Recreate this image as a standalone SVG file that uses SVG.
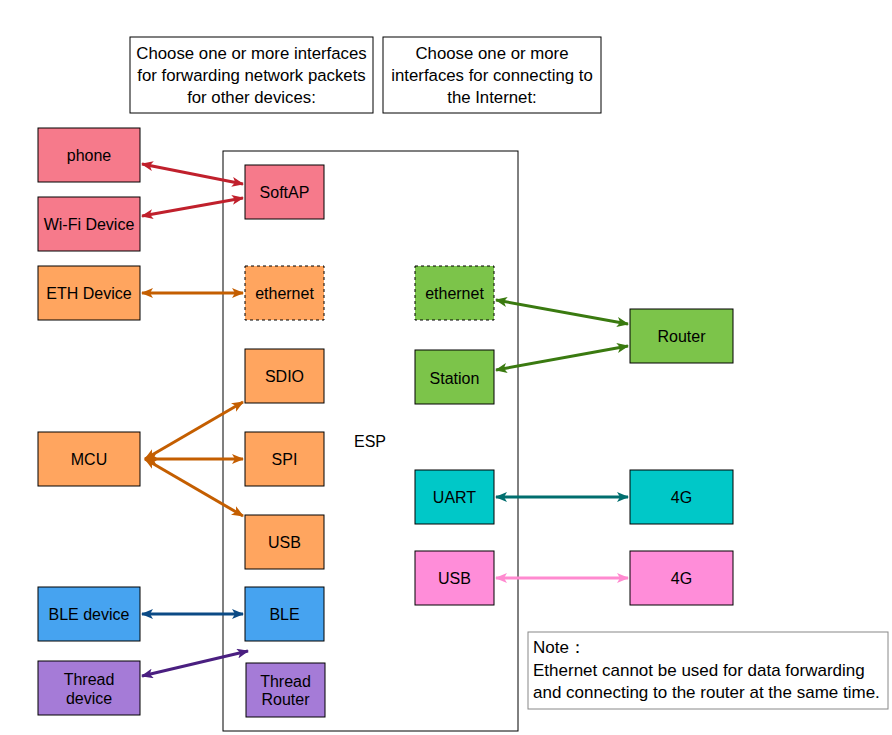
<svg xmlns="http://www.w3.org/2000/svg" width="892" height="735" viewBox="0 0 892 735">
<defs>
<style>
text{font-family:"Liberation Sans",Arial,sans-serif;font-size:16px;fill:#000;text-anchor:middle;dominant-baseline:central}
.big{font-size:16.8px}
.n{stroke:#000;stroke-width:1}
.d{stroke-dasharray:3 3}
.pk{fill:#F67A8B}.or{fill:#FFA55F}.gr{fill:#7CC44A}.cy{fill:#00C8C8}.mg{fill:#FF8DD9}.bl{fill:#46A3F0}.pu{fill:#A57BD7}
.c{fill:none;stroke-width:3}
.tb{fill:#fff;stroke:#000;stroke-width:1}
.note{fill:#fff;stroke:#888;stroke-width:1}
.l{text-anchor:start;font-size:17px}
</style>
<marker id="m-red" viewBox="0 0 12 10" refX="11" refY="5" markerWidth="12" markerHeight="10" orient="auto-start-reverse" markerUnits="userSpaceOnUse"><path d="M0,0 L12,5 L0,10 L3,5 Z" fill="#C0202C"/></marker>
<marker id="m-or" viewBox="0 0 12 10" refX="11" refY="5" markerWidth="12" markerHeight="10" orient="auto-start-reverse" markerUnits="userSpaceOnUse"><path d="M0,0 L12,5 L0,10 L3,5 Z" fill="#C45E00"/></marker>
<marker id="m-gr" viewBox="0 0 12 10" refX="11" refY="5" markerWidth="12" markerHeight="10" orient="auto-start-reverse" markerUnits="userSpaceOnUse"><path d="M0,0 L12,5 L0,10 L3,5 Z" fill="#3A7A10"/></marker>
<marker id="m-te" viewBox="0 0 12 10" refX="11" refY="5" markerWidth="12" markerHeight="10" orient="auto-start-reverse" markerUnits="userSpaceOnUse"><path d="M0,0 L12,5 L0,10 L3,5 Z" fill="#006E6E"/></marker>
<marker id="m-pk" viewBox="0 0 12 10" refX="11" refY="5" markerWidth="12" markerHeight="10" orient="auto-start-reverse" markerUnits="userSpaceOnUse"><path d="M0,0 L12,5 L0,10 L3,5 Z" fill="#FF8AD0"/></marker>
<marker id="m-bl" viewBox="0 0 12 10" refX="11" refY="5" markerWidth="12" markerHeight="10" orient="auto-start-reverse" markerUnits="userSpaceOnUse"><path d="M0,0 L12,5 L0,10 L3,5 Z" fill="#0B4A85"/></marker>
<marker id="m-pu" viewBox="0 0 12 10" refX="11" refY="5" markerWidth="12" markerHeight="10" orient="auto-start-reverse" markerUnits="userSpaceOnUse"><path d="M0,0 L12,5 L0,10 L3,5 Z" fill="#4A1F80"/></marker>
</defs>
<g id="note-left"><rect class="tb" x="130" y="37" width="243" height="76"/><text class="big" x="251.5" y="53">Choose one or more interfaces</text><text class="big" x="251.5" y="75">for forwarding network packets</text><text class="big" x="251.5" y="97">for other devices:</text></g>
<g id="note-right"><rect class="tb" x="383" y="37" width="218" height="76"/><text class="big" x="492" y="53">Choose one or more</text><text class="big" x="492" y="75">interfaces for connecting to</text><text class="big" x="492" y="97">the Internet:</text></g>
<g id="esp"><rect x="223" y="151" width="295" height="580" fill="#fff" stroke="#000"/><text x="370" y="441">ESP</text></g>
<g id="phone"><rect class="n pk" x="38" y="128" width="102" height="54"/><text x="89" y="155">phone</text></g>
<g id="wifi-device"><rect class="n pk" x="38" y="197" width="102" height="54"/><text x="89" y="224">Wi-Fi Device</text></g>
<g id="eth-device"><rect class="n or" x="38" y="266" width="102" height="54"/><text x="89" y="293">ETH Device</text></g>
<g id="mcu"><rect class="n or" x="38" y="432" width="102" height="54"/><text x="89" y="459">MCU</text></g>
<g id="ble-device"><rect class="n bl" x="38" y="587" width="102" height="54"/><text x="89" y="614">BLE device</text></g>
<g id="thread-device"><rect class="n pu" x="38" y="661" width="102" height="54"/><text x="89" y="679">Thread</text><text x="89" y="698">device</text></g>
<g id="softap"><rect class="n pk" x="245" y="165" width="79" height="54"/><text x="284.5" y="192">SoftAP</text></g>
<g id="ethernet-l"><rect class="n or d" x="245" y="266" width="79" height="54"/><text x="284.5" y="293">ethernet</text></g>
<g id="sdio"><rect class="n or" x="245" y="349" width="79" height="54"/><text x="284.5" y="376">SDIO</text></g>
<g id="spi"><rect class="n or" x="245" y="432" width="79" height="54"/><text x="284.5" y="459">SPI</text></g>
<g id="usb-l"><rect class="n or" x="245" y="515" width="79" height="54"/><text x="284.5" y="542">USB</text></g>
<g id="ble"><rect class="n bl" x="245" y="587" width="79" height="54"/><text x="284.5" y="614">BLE</text></g>
<g id="thread-router"><rect class="n pu" x="246" y="663" width="79" height="54"/><text x="285.5" y="681">Thread</text><text x="285.5" y="699">Router</text></g>
<g id="ethernet-r"><rect class="n gr d" x="415" y="266" width="79" height="54"/><text x="454.5" y="293">ethernet</text></g>
<g id="station"><rect class="n gr" x="415" y="350" width="79" height="54"/><text x="454.5" y="378">Station</text></g>
<g id="uart"><rect class="n cy" x="415" y="470" width="79" height="54"/><text x="454.5" y="497">UART</text></g>
<g id="usb-r"><rect class="n mg" x="415" y="551" width="79" height="54"/><text x="454.5" y="578">USB</text></g>
<g id="router"><rect class="n gr" x="630" y="309" width="103" height="54"/><text x="681.5" y="336">Router</text></g>
<g id="g4-uart"><rect class="n cy" x="630" y="470" width="103" height="54"/><text x="681.5" y="497">4G</text></g>
<g id="g4-usb"><rect class="n mg" x="630" y="551" width="103" height="54"/><text x="681.5" y="578">4G</text></g>
<g id="note"><rect class="note" x="528" y="632" width="360" height="77"/><text class="l" x="533" y="647">Note：</text><text class="l" x="533" y="670">Ethernet cannot be used for data forwarding</text><text class="l" x="533" y="692">and connecting to the router at the same time.</text></g>
<g id="connectors">
<line class="c" stroke="#C0202C" x1="142" y1="164" x2="243" y2="184" marker-start="url(#m-red)" marker-end="url(#m-red)"/>
<line class="c" stroke="#C0202C" x1="142" y1="216" x2="243" y2="198" marker-start="url(#m-red)" marker-end="url(#m-red)"/>
<line class="c" stroke="#C45E00" x1="142" y1="293" x2="243" y2="293" marker-start="url(#m-or)" marker-end="url(#m-or)"/>
<line class="c" stroke="#C45E00" x1="145" y1="459" x2="243" y2="402" marker-start="url(#m-or)" marker-end="url(#m-or)"/>
<line class="c" stroke="#C45E00" x1="145" y1="459" x2="243" y2="459" marker-start="url(#m-or)" marker-end="url(#m-or)"/>
<line class="c" stroke="#C45E00" x1="145" y1="459" x2="243" y2="516" marker-start="url(#m-or)" marker-end="url(#m-or)"/>
<line class="c" stroke="#0B4A85" x1="142" y1="614" x2="243" y2="614" marker-start="url(#m-bl)" marker-end="url(#m-bl)"/>
<line class="c" stroke="#4A1F80" x1="142" y1="676" x2="248" y2="651" marker-start="url(#m-pu)" marker-end="url(#m-pu)"/>
<line class="c" stroke="#3A7A10" x1="496" y1="300" x2="628" y2="324" marker-start="url(#m-gr)" marker-end="url(#m-gr)"/>
<line class="c" stroke="#3A7A10" x1="496" y1="370" x2="628" y2="346" marker-start="url(#m-gr)" marker-end="url(#m-gr)"/>
<line class="c" stroke="#006E6E" x1="496" y1="497" x2="628" y2="497" marker-start="url(#m-te)" marker-end="url(#m-te)"/>
<line class="c" stroke="#FF8AD0" x1="496" y1="578" x2="628" y2="578" marker-start="url(#m-pk)" marker-end="url(#m-pk)"/>
</g>
</svg>
